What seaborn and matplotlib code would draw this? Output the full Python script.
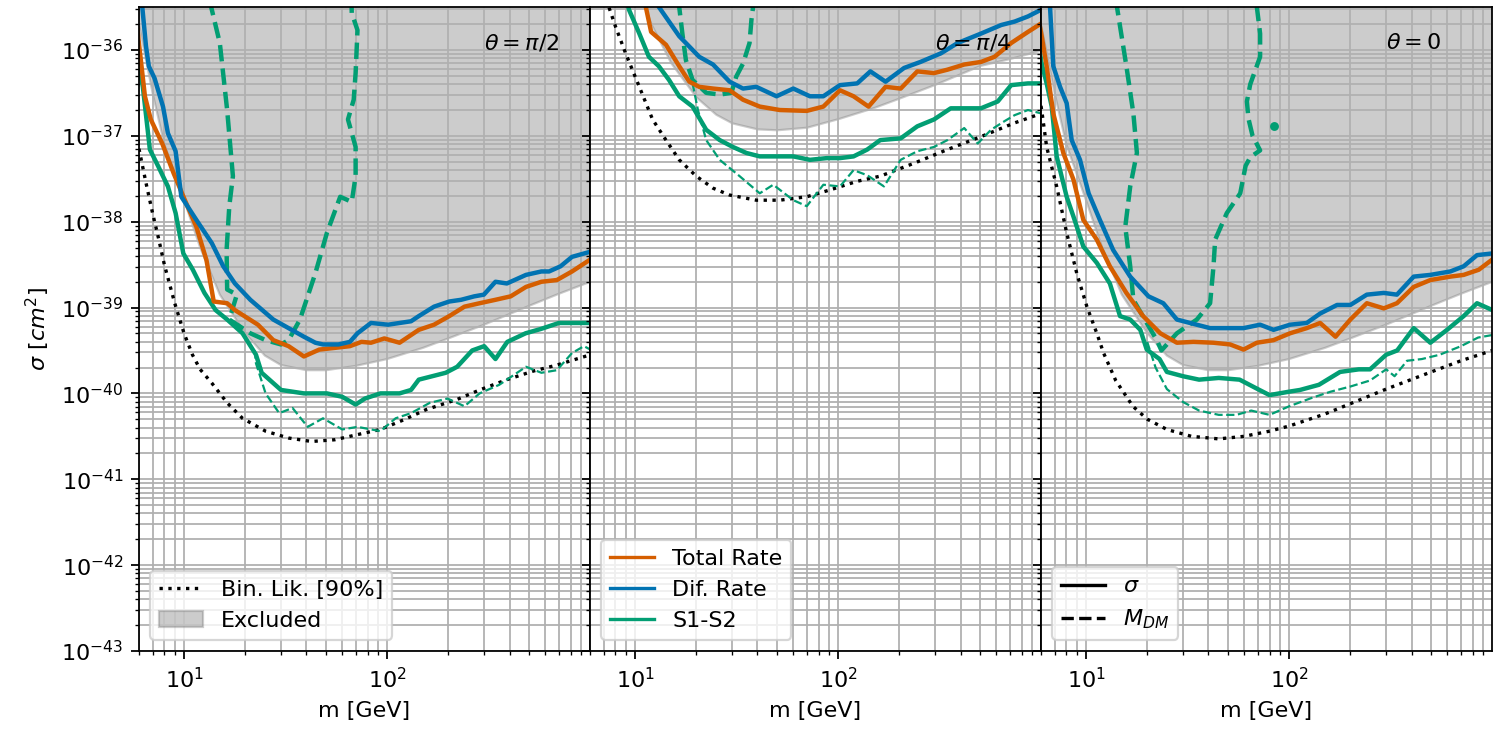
import numpy as np
import pandas as pd
import seaborn as sns
import matplotlib
matplotlib.use("Agg")
import matplotlib.pyplot as plt
from matplotlib.lines import Line2D
from matplotlib.patches import Patch

# ---------------------------------------------------------------------------
# Data: dark-matter mass m [GeV] and log10 of the cross-section sigma [cm^2]
# ---------------------------------------------------------------------------
panel_titles = [r"$\theta = \pi/2$", r"$\theta = \pi/4$", r"$\theta = 0$"]
x_ticks = [10, 100]
y_tick_exponents = [-43, -42, -41, -40, -39, -38, -37, -36]

# --- theta = pi/2 ---------------------------------------------------------
p1_total_m = [5.9, 5.97, 6.42, 6.86, 7.81, 8.9, 10.1, 11.5, 12.9, 14.0, 16.3, 17.8, 23.1, 27.5, 32.7,
              38.9, 46.3, 55.2, 65.5, 74.7, 83.2, 96.8, 115, 143, 170, 202, 240, 285, 341, 405,
              482, 574, 684, 812, 1000]
p1_total_s = [-35.75, -35.88, -36.54, -36.81, -37.09, -37.44, -37.75, -38.06, -38.45, -38.93, -38.95,
              -39.03, -39.20, -39.38, -39.45, -39.57, -39.49, -39.47, -39.45, -39.40, -39.41, -39.36,
              -39.41, -39.26, -39.20, -39.10, -38.99, -38.95, -38.91, -38.87, -38.76, -38.70, -38.68,
              -38.58, -38.44]
p1_dif_m = [6.1, 6.23, 6.5, 6.71, 7.16, 7.88, 8.33, 9.09, 9.7, 11.5, 13.7, 15.6, 17.8, 21.2, 27.5, 32.7,
            38.9, 44.3, 48.3, 57.5, 65.5, 71.4, 83.2, 101, 131, 143, 170, 202, 231, 268, 299, 341,
            388, 482, 574, 626, 713, 812, 1000]
p1_dif_s = [-35.3, -35.50, -35.96, -36.19, -36.33, -36.66, -36.97, -37.18, -37.71, -37.98, -38.25,
            -38.52, -38.72, -38.91, -39.14, -39.24, -39.34, -39.41, -39.43, -39.43, -39.40, -39.30,
            -39.18, -39.20, -39.16, -39.10, -38.99, -38.93, -38.91, -38.87, -38.85, -38.70, -38.72,
            -38.62, -38.58, -38.58, -38.52, -38.41, -38.35]
p1_s12_m = [5.9, 5.97, 6.27, 6.79, 7.48, 8.33, 9.09, 9.92, 11.05, 12.6, 14.3, 16.3, 19.4, 22.6, 24.1,
            30.0, 38.9, 50.5, 60.1, 69.9, 77.7, 92.6, 115, 131, 143, 194, 221, 262, 300, 341, 390,
            480, 570, 700, 1000]
p1_s12_s = [-36.0, -36.16, -36.43, -37.16, -37.36, -37.59, -37.90, -38.37, -38.56, -38.83, -39.03,
            -39.14, -39.30, -39.55, -39.76, -39.96, -40.00, -40.00, -40.04, -40.13, -40.06, -40.00,
            -40.00, -39.96, -39.84, -39.76, -39.69, -39.50, -39.45, -39.60, -39.40, -39.30, -39.25,
            -39.18, -39.18]
p1_s12_thin_m = [22.3, 22.6, 25.2, 29.4, 34.2, 40.6, 48.3, 60.1, 71.4, 92.6, 110, 131, 162, 198, 240,
                 285, 356, 482, 574, 684, 812, 930, 1000]
p1_s12_thin_s = [-39.50, -39.65, -40.00, -40.23, -40.17, -40.39, -40.29, -40.42, -40.39, -40.44,
                 -40.29, -40.23, -40.11, -40.06, -40.15, -40.00, -39.90, -39.69, -39.76, -39.73,
                 -39.53, -39.45, -39.49]
p1_mdm_m = [13.4, 13.6, 15.0, 16.3, 17.4, 16.7, 16.2, 16.3, 18.2, 16.7, 21.2, 25.2, 30.0, 32.7, 37.2,
            44.3, 50.5, 58.7, 66.9, 69.9, 69.9, 64.1, 68.4, 69.9, 71.4, 66.9, 66.5]
p1_mdm_s = [-35.3, -35.50, -35.92, -36.70, -37.47, -37.82, -38.33, -38.79, -38.85, -39.14, -39.30,
            -39.38, -39.43, -39.38, -39.14, -38.60, -38.13, -37.71, -37.77, -37.47, -37.13, -36.81,
            -36.58, -36.27, -35.77, -35.57, -35.3]
p1_binlik_m = [5.9, 6.0, 6.5, 7.0, 7.5, 8.0, 9.0, 10.0, 11.0, 12.0, 13.7, 16.3, 19.4, 25.2, 32.7, 42.4,
               55.2, 71.4, 92.6, 120, 155, 221, 285, 388, 524, 684, 1000]
p1_binlik_s = [-37.05, -37.15, -37.55, -37.90, -38.20, -38.50, -38.95, -39.30, -39.55, -39.72, -39.88,
               -40.11, -40.29, -40.44, -40.52, -40.56, -40.54, -40.48, -40.42, -40.31, -40.19, -40.07,
               -39.96, -39.84, -39.74, -39.67, -39.55]
p1_excl_m = [5.9, 6, 7, 8, 10, 12, 15, 20, 25, 30, 40, 50, 70, 100, 150, 200, 300, 500, 700, 1000]
p1_excl_s = [-35.6, -35.7, -36.5, -37.1, -37.75, -38.3, -38.85, -39.3, -39.56, -39.67, -39.73,
             -39.73, -39.68, -39.60, -39.47, -39.36, -39.20, -38.98, -38.84, -38.70]

# --- theta = pi/4 ---------------------------------------------------------
p2_total_m = [11.0, 11.3, 12.0, 14.2, 16.5, 18.5, 20.7, 24.2, 29.2, 34.0, 41.1, 51.6, 70.0, 84.5, 102,
              119, 141, 171, 203, 245, 296, 345, 417, 504, 588, 710, 859, 1000]
p2_total_s = [-35.3, -35.50, -35.79, -35.94, -36.19, -36.37, -36.43, -36.45, -36.47, -36.58, -36.66,
              -36.70, -36.71, -36.66, -36.47, -36.54, -36.66, -36.43, -36.45, -36.25, -36.27, -36.23,
              -36.17, -36.14, -36.08, -35.92, -35.79, -35.69]
p2_dif_m = [12.8, 13.1, 16.5, 20.7, 24.2, 29.2, 34.0, 39.5, 49.7, 60.1, 72.6, 84.5, 102, 124, 144, 171,
            211, 254, 320, 387, 504, 634, 738, 859, 1000]
p2_dif_s = [-35.3, -35.50, -35.84, -36.08, -36.17, -36.37, -36.45, -36.43, -36.54, -36.45, -36.54,
            -36.54, -36.41, -36.39, -36.25, -36.37, -36.21, -36.14, -36.04, -35.92, -35.81, -35.71,
            -35.67, -35.61, -35.53]
p2_s12_m = [9.1, 9.33, 10.5, 11.7, 13.1, 14.7, 16.5, 19.2, 22.4, 26.1, 30.3, 35.3, 41.1, 47.9, 60.1,
            72.6, 87.9, 102, 119, 139, 161, 203, 245, 296, 358, 433, 504, 610, 710, 859, 1000]
p2_s12_s = [-35.4, -35.53, -35.81, -36.08, -36.19, -36.35, -36.54, -36.66, -36.93, -37.05, -37.13,
            -37.20, -37.24, -37.24, -37.24, -37.28, -37.26, -37.26, -37.24, -37.16, -37.05, -37.03,
            -36.89, -36.81, -36.68, -36.68, -36.68, -36.60, -36.41, -36.39, -36.39]
p2_s12_thin_m = [19.2, 20.4, 22.4, 26.1, 32.7, 41.1, 47.9, 60.1, 70.0, 84.5, 102, 119, 139, 168, 203,
                 245, 296, 345, 417, 486, 565, 658, 738, 859, 1000]
p2_s12_thin_s = [-36.39, -36.70, -37.05, -37.28, -37.47, -37.67, -37.57, -37.75, -37.82, -37.57,
                 -37.59, -37.40, -37.46, -37.59, -37.28, -37.18, -37.13, -37.05, -36.91, -37.09,
                 -36.93, -36.83, -36.76, -36.70, -36.74]
p2_mdm_m = [16.3, 16.5, 17.1, 17.8, 19.2, 22.4, 26.1, 29.8, 31.5, 34.0, 36.6, 37.4, 38.1, 38.3]
p2_mdm_s = [-35.3, -35.50, -35.81, -36.12, -36.35, -36.50, -36.52, -36.50, -36.31, -36.16, -35.92,
            -35.65, -35.50, -35.3]
p2_binlik_m = [7.2, 7.43, 8.02, 8.99, 10.5, 12.2, 14.2, 16.5, 20.0, 24.2, 29.2, 39.5, 51.6, 70.0, 91.2,
               124, 161, 236, 345, 504, 738, 1000]
p2_binlik_s = [-35.3, -35.50, -35.73, -36.04, -36.43, -36.81, -37.05, -37.28, -37.47, -37.61, -37.69,
               -37.75, -37.75, -37.71, -37.63, -37.53, -37.47, -37.32, -37.16, -37.01, -36.85, -36.74]
p2_excl_m = [10, 12, 15, 20, 25, 30, 40, 50, 70, 100, 150, 200, 300, 500, 700, 1000]
p2_excl_s = [-35.2, -35.7, -36.15, -36.55, -36.75, -36.85, -36.92, -36.93, -36.90, -36.80, -36.67,
             -36.56, -36.40, -36.18, -36.10, -36.00]

# --- theta = 0 ------------------------------------------------------------
p3_total_m = [5.9, 6.05, 6.40, 6.90, 7.73, 8.67, 9.70, 11.3, 13.1, 15.8, 19.1, 23.2, 28.0, 33.8, 42.4,
              51.2, 59.6, 69.3, 83.7, 101, 122, 142, 169, 200, 241, 292, 339, 410, 495, 621, 722,
              857, 1000]
p3_total_s = [-35.7, -35.84, -36.19, -36.74, -37.20, -37.51, -37.98, -38.21, -38.52, -38.83, -39.10,
              -39.30, -39.41, -39.40, -39.41, -39.43, -39.49, -39.41, -39.38, -39.30, -39.24, -39.18,
              -39.34, -39.14, -38.95, -39.01, -38.95, -38.76, -38.68, -38.64, -38.62, -38.56, -38.44]
p3_dif_m = [6.5, 6.65, 6.90, 7.45, 8.03, 8.50, 9.34, 10.3, 11.7, 13.6, 16.5, 20.3, 24.0, 28.0, 32.5,
            40.8, 51.2, 59.6, 71.9, 83.7, 101, 122, 142, 172, 200, 241, 292, 339, 410, 495, 621,
            722, 840, 1000]
p3_dif_s = [-35.3, -35.50, -36.19, -36.43, -36.62, -37.05, -37.28, -37.67, -37.98, -38.33, -38.64,
            -38.87, -38.95, -39.14, -39.18, -39.24, -39.24, -39.24, -39.20, -39.26, -39.20, -39.18,
            -39.07, -38.97, -38.97, -38.85, -38.83, -38.85, -38.64, -38.62, -38.58, -38.52, -38.39,
            -38.37]
p3_s12_m = [5.9, 6.05, 6.40, 6.78, 7.17, 8.03, 8.67, 9.70, 11.3, 13.1, 14.7, 16.5, 18.5, 19.9, 23.0,
            25.0, 30.0, 36.0, 45.0, 57.0, 70.0, 80.0, 100, 113, 140, 178, 220, 250, 300, 340, 410,
            495, 598, 722, 840, 1000]
p3_s12_s = [-36.0, -36.16, -36.39, -36.66, -37.24, -37.71, -37.94, -38.29, -38.48, -38.72, -39.10,
            -39.14, -39.26, -39.49, -39.60, -39.75, -39.80, -39.84, -39.82, -39.84, -39.95, -40.02,
            -39.98, -39.96, -39.90, -39.75, -39.72, -39.72, -39.55, -39.50, -39.24, -39.41, -39.26,
            -39.10, -38.95, -39.03]
p3_s12_thin_m = [20, 22, 25, 30, 36, 45, 55, 65, 80, 100, 130, 160, 200, 250, 300, 330, 380, 450, 550,
                 700, 850, 1000]
p3_s12_thin_s = [-39.40, -39.70, -39.95, -40.10, -40.20, -40.25, -40.25, -40.20, -40.25, -40.15,
                 -40.05, -39.98, -39.92, -39.85, -39.72, -39.80, -39.62, -39.60, -39.55, -39.45,
                 -39.35, -39.32]
p3_mdm_m = [14.0, 14.2, 15.8, 17.1, 17.8, 16.5, 15.6, 16.5, 17.1, 19.9, 22.3, 23.5, 28.0, 35.1, 40.8,
            42.4, 43.2, 49.3, 57.4, 61.0, 64.3, 71.9, 66.0, 63.0, 61.9, 64.3, 71.9, 71.9, 69.3, 68.5]
p3_mdm_s = [-35.3, -35.50, -36.19, -36.74, -37.20, -37.59, -38.06, -38.52, -38.91, -39.18, -39.38,
            -39.50, -39.30, -39.14, -38.95, -38.52, -38.21, -37.90, -37.67, -37.35, -37.25, -37.17,
            -37.00, -36.80, -36.60, -36.40, -36.08, -35.81, -35.50, -35.3]
p3_mdm_island_m = [83.7]
p3_mdm_island_s = [-36.89]
p3_binlik_m = [5.9, 6.05, 6.40, 7.17, 8.03, 9.0, 10.1, 11.3, 12.2, 14, 17, 20, 25, 33, 45, 60, 80, 100,
               150, 200, 300, 500, 700, 1000]
p3_binlik_s = [-36.55, -36.70, -37.13, -37.59, -38.13, -38.60, -38.99, -39.30, -39.53, -39.85,
               -40.15, -40.30, -40.42, -40.50, -40.53, -40.50, -40.44, -40.38, -40.24, -40.12,
               -39.95, -39.75, -39.62, -39.50]
p3_excl_m = p1_excl_m
p3_excl_s = p1_excl_s

# ---------------------------------------------------------------------------
palette = sns.color_palette("colorblind")
c_total = palette[3]
c_dif = palette[0]
c_s12 = palette[2]


def curve(ax, m, logsig, **kws):
    df = pd.DataFrame({"m": m, "sigma": 10.0 ** np.asarray(logsig, dtype=float)})
    sns.lineplot(data=df, x="m", y="sigma", ax=ax, sort=False, estimator=None,
                 legend=False, **kws)


panels = [
    dict(total=(p1_total_m, p1_total_s), dif=(p1_dif_m, p1_dif_s), s12=(p1_s12_m, p1_s12_s),
         thin=(p1_s12_thin_m, p1_s12_thin_s), mdm=[(p1_mdm_m, p1_mdm_s)],
         binlik=(p1_binlik_m, p1_binlik_s), excl=(p1_excl_m, p1_excl_s), island=None),
    dict(total=(p2_total_m, p2_total_s), dif=(p2_dif_m, p2_dif_s), s12=(p2_s12_m, p2_s12_s),
         thin=(p2_s12_thin_m, p2_s12_thin_s), mdm=[(p2_mdm_m, p2_mdm_s)],
         binlik=(p2_binlik_m, p2_binlik_s), excl=(p2_excl_m, p2_excl_s), island=None),
    dict(total=(p3_total_m, p3_total_s), dif=(p3_dif_m, p3_dif_s), s12=(p3_s12_m, p3_s12_s),
         thin=(p3_s12_thin_m, p3_s12_thin_s), mdm=[(p3_mdm_m, p3_mdm_s)],
         binlik=(p3_binlik_m, p3_binlik_s), excl=(p3_excl_m, p3_excl_s),
         island=(p3_mdm_island_m, p3_mdm_island_s)),
]

fig, axes = plt.subplots(1, 3, sharey=True, figsize=(1499 / 160, 735 / 160), dpi=160)
fig.subplots_adjust(left=0.0927, right=0.9953, bottom=0.1143, top=0.9905, wspace=0)

y_lo, y_hi = 1e-43, 10 ** -35.5

for ax, p, title in zip(axes, panels, panel_titles):
    ax.set_xscale("log")
    ax.set_yscale("log")

    em, es = p["excl"]
    ax.fill_between(em, 10.0 ** np.asarray(es), 1e-30, color="gray", alpha=0.4, zorder=1)

    curve(ax, *p["binlik"], color="black", linestyle=":", linewidth=1.5)
    curve(ax, *p["thin"], color=c_s12, linestyle="--", linewidth=1.0)
    for seg in p["mdm"]:
        curve(ax, *seg, color=c_s12, linestyle="--", linewidth=2.0)
    if p["island"] is not None:
        im, isg = p["island"]
        ax.plot(im, 10.0 ** np.asarray(isg), "o", color=c_s12, markersize=3)
    curve(ax, *p["s12"], color=c_s12, linewidth=2.0)
    curve(ax, *p["total"], color=c_total, linewidth=2.0)
    curve(ax, *p["dif"], color=c_dif, linewidth=2.0)

    ax.set_xticks(x_ticks)
    ax.set_yticks([10.0 ** e for e in y_tick_exponents])
    ax.set_xlim(6, 995)
    ax.set_ylim(y_lo, y_hi)
    ax.grid(True, which="both", color="#b0b0b0", linewidth=0.8)
    ax.set_xlabel("m [GeV]")
    ax.set_ylabel("")
    ax.text(0.765, 0.944, title, transform=ax.transAxes, ha="left", va="center", fontsize=10)

axes[0].set_ylabel(r"$\sigma\ [cm^2]$")

axes[0].legend(handles=[Line2D([], [], color="black", linestyle=":", linewidth=1.5),
                        Patch(facecolor="gray", edgecolor="gray", alpha=0.4)],
               labels=["Bin. Lik. [90%]", "Excluded"], loc="lower left")
axes[1].legend(handles=[Line2D([], [], color=c_total, linewidth=1.5),
                        Line2D([], [], color=c_dif, linewidth=1.5),
                        Line2D([], [], color=c_s12, linewidth=1.5)],
               labels=["Total Rate", "Dif. Rate", "S1-S2"], loc="lower left")
axes[2].legend(handles=[Line2D([], [], color="black", linewidth=1.5),
                        Line2D([], [], color="black", linestyle="--", linewidth=1.5)],
               labels=[r"$\sigma$", r"$M_{DM}$"], loc="lower left")

fig.savefig("out.png", dpi=160)
